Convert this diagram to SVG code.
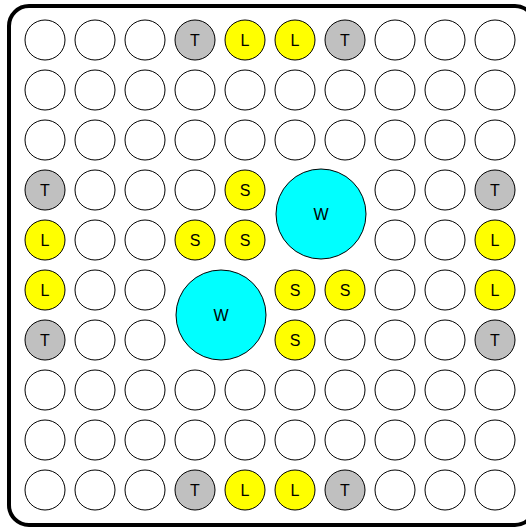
<svg xmlns="http://www.w3.org/2000/svg" width="526" height="527" viewBox="0 0 526 527">
<style>
circle{stroke:#000;stroke-width:1}
.e{fill:#fff}
.t{fill:#c0c0c0}
.y{fill:#ffff00}
.w{fill:#00ffff}
text{font-family:"Liberation Sans",Arial,sans-serif;font-size:16px;fill:#000;text-anchor:middle;dominant-baseline:central}
</style>
<rect x="9" y="6" width="526" height="519" rx="20" ry="20" fill="#fff" stroke="#000" stroke-width="4"/>
<g id="cells">
<g id="r0"><circle class="e" cx="45" cy="40" r="20"/><circle class="e" cx="95" cy="40" r="20"/><circle class="e" cx="145" cy="40" r="20"/><circle class="t" cx="195" cy="40" r="20"/><circle class="y" cx="245" cy="40" r="20"/><circle class="y" cx="295" cy="40" r="20"/><circle class="t" cx="345" cy="40" r="20"/><circle class="e" cx="395" cy="40" r="20"/><circle class="e" cx="445" cy="40" r="20"/><circle class="e" cx="495" cy="40" r="20"/>
<text x="195" y="40">T</text><text x="245" y="40">L</text><text x="295" y="40">L</text><text x="345" y="40">T</text></g>
<g id="r1"><circle class="e" cx="45" cy="90" r="20"/><circle class="e" cx="95" cy="90" r="20"/><circle class="e" cx="145" cy="90" r="20"/><circle class="e" cx="195" cy="90" r="20"/><circle class="e" cx="245" cy="90" r="20"/><circle class="e" cx="295" cy="90" r="20"/><circle class="e" cx="345" cy="90" r="20"/><circle class="e" cx="395" cy="90" r="20"/><circle class="e" cx="445" cy="90" r="20"/><circle class="e" cx="495" cy="90" r="20"/></g>
<g id="r2"><circle class="e" cx="45" cy="140" r="20"/><circle class="e" cx="95" cy="140" r="20"/><circle class="e" cx="145" cy="140" r="20"/><circle class="e" cx="195" cy="140" r="20"/><circle class="e" cx="245" cy="140" r="20"/><circle class="e" cx="295" cy="140" r="20"/><circle class="e" cx="345" cy="140" r="20"/><circle class="e" cx="395" cy="140" r="20"/><circle class="e" cx="445" cy="140" r="20"/><circle class="e" cx="495" cy="140" r="20"/></g>
<g id="r3"><circle class="t" cx="45" cy="190" r="20"/><circle class="e" cx="95" cy="190" r="20"/><circle class="e" cx="145" cy="190" r="20"/><circle class="e" cx="195" cy="190" r="20"/><circle class="y" cx="245" cy="190" r="20"/><circle class="e" cx="395" cy="190" r="20"/><circle class="e" cx="445" cy="190" r="20"/><circle class="t" cx="495" cy="190" r="20"/>
<text x="45" y="190">T</text><text x="245" y="190">S</text><text x="495" y="190">T</text></g>
<g id="r4"><circle class="y" cx="45" cy="240" r="20"/><circle class="e" cx="95" cy="240" r="20"/><circle class="e" cx="145" cy="240" r="20"/><circle class="y" cx="195" cy="240" r="20"/><circle class="y" cx="245" cy="240" r="20"/><circle class="e" cx="395" cy="240" r="20"/><circle class="e" cx="445" cy="240" r="20"/><circle class="y" cx="495" cy="240" r="20"/>
<text x="45" y="240">L</text><text x="195" y="240">S</text><text x="245" y="240">S</text><text x="495" y="240">L</text></g>
<g id="r5"><circle class="y" cx="45" cy="290" r="20"/><circle class="e" cx="95" cy="290" r="20"/><circle class="e" cx="145" cy="290" r="20"/><circle class="y" cx="295" cy="290" r="20"/><circle class="y" cx="345" cy="290" r="20"/><circle class="e" cx="395" cy="290" r="20"/><circle class="e" cx="445" cy="290" r="20"/><circle class="y" cx="495" cy="290" r="20"/>
<text x="45" y="290">L</text><text x="295" y="290">S</text><text x="345" y="290">S</text><text x="495" y="290">L</text></g>
<g id="r6"><circle class="t" cx="45" cy="340" r="20"/><circle class="e" cx="95" cy="340" r="20"/><circle class="e" cx="145" cy="340" r="20"/><circle class="y" cx="295" cy="340" r="20"/><circle class="e" cx="345" cy="340" r="20"/><circle class="e" cx="395" cy="340" r="20"/><circle class="e" cx="445" cy="340" r="20"/><circle class="t" cx="495" cy="340" r="20"/>
<text x="45" y="340">T</text><text x="295" y="340">S</text><text x="495" y="340">T</text></g>
<g id="r7"><circle class="e" cx="45" cy="390" r="20"/><circle class="e" cx="95" cy="390" r="20"/><circle class="e" cx="145" cy="390" r="20"/><circle class="e" cx="195" cy="390" r="20"/><circle class="e" cx="245" cy="390" r="20"/><circle class="e" cx="295" cy="390" r="20"/><circle class="e" cx="345" cy="390" r="20"/><circle class="e" cx="395" cy="390" r="20"/><circle class="e" cx="445" cy="390" r="20"/><circle class="e" cx="495" cy="390" r="20"/></g>
<g id="r8"><circle class="e" cx="45" cy="440" r="20"/><circle class="e" cx="95" cy="440" r="20"/><circle class="e" cx="145" cy="440" r="20"/><circle class="e" cx="195" cy="440" r="20"/><circle class="e" cx="245" cy="440" r="20"/><circle class="e" cx="295" cy="440" r="20"/><circle class="e" cx="345" cy="440" r="20"/><circle class="e" cx="395" cy="440" r="20"/><circle class="e" cx="445" cy="440" r="20"/><circle class="e" cx="495" cy="440" r="20"/></g>
<g id="r9"><circle class="e" cx="45" cy="490" r="20"/><circle class="e" cx="95" cy="490" r="20"/><circle class="e" cx="145" cy="490" r="20"/><circle class="t" cx="195" cy="490" r="20"/><circle class="y" cx="245" cy="490" r="20"/><circle class="y" cx="295" cy="490" r="20"/><circle class="t" cx="345" cy="490" r="20"/><circle class="e" cx="395" cy="490" r="20"/><circle class="e" cx="445" cy="490" r="20"/><circle class="e" cx="495" cy="490" r="20"/>
<text x="195" y="490">T</text><text x="245" y="490">L</text><text x="295" y="490">L</text><text x="345" y="490">T</text></g>
</g>
<g id="w1"><circle class="w" cx="321" cy="214" r="45"/><text x="321" y="214">W</text></g>
<g id="w2"><circle class="w" cx="221" cy="315" r="45"/><text x="221" y="315">W</text></g>
<g id="connectors"></g>
</svg>
